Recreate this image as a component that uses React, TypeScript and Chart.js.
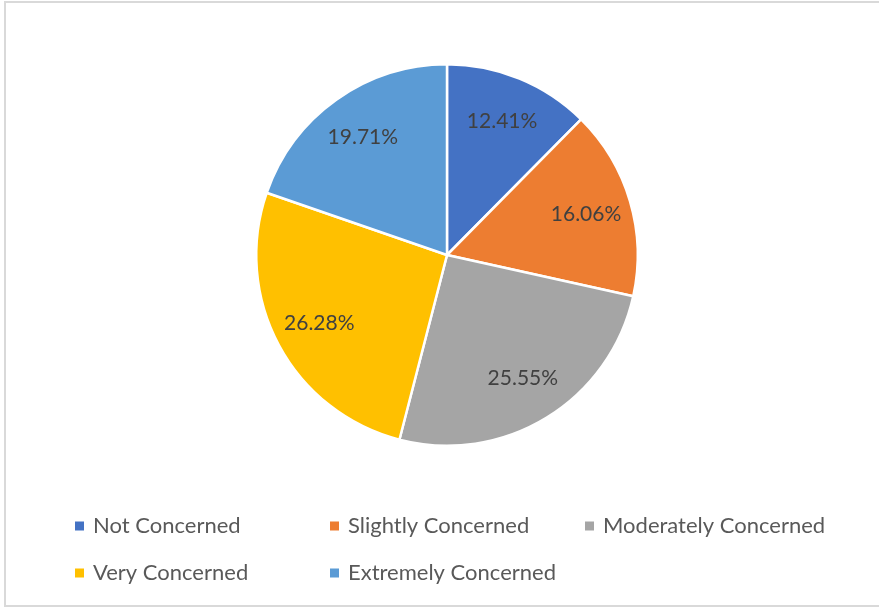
import React, { useEffect, useRef } from "react";
import { Chart, registerables } from "chart.js";

Chart.register(...registerables);

const categories = ["Not Concerned", "Slightly Concerned", "Moderately Concerned", "Very Concerned", "Extremely Concerned"];
const values = [12.41, 16.06, 25.55, 26.28, 19.71];
const valueLabels = ["12.41%", "16.06%", "25.55%", "26.28%", "19.71%"];
const colors = ["#4472C4", "#ED7D31", "#A5A5A5", "#FFC000", "#5B9BD5"];

const FONT = "Lato, 'Liberation Sans', sans-serif";

const labelPlugin = {
  id: "sliceLabels",
  afterDatasetsDraw(chart: any) {
    const ctx = chart.ctx;
    const meta = chart.getDatasetMeta(0);
    ctx.save();
    ctx.font = `21px ${FONT}`;
    ctx.fillStyle = "#404040";
    ctx.textAlign = "center";
    ctx.textBaseline = "middle";
    meta.data.forEach((arc: any, i: number) => {
      const { x, y, startAngle, endAngle, outerRadius } = arc.getProps(["x", "y", "startAngle", "endAngle", "outerRadius"], true);
      const mid = (startAngle + endAngle) / 2;
      const r = outerRadius * 0.76;
      ctx.fillText(valueLabels[i], x + Math.cos(mid) * r, y + Math.sin(mid) * r);
    });
    ctx.restore();
  },
};

const legendPlugin = {
  id: "gridLegend",
  afterDraw(chart: any) {
    const ctx = chart.ctx;
    const colStart = 75;
    const colStep = 255;
    const perRow = 3;
    const rowTop = 526;
    const rowStep = 47;
    ctx.save();
    ctx.font = `22px ${FONT}`;
    ctx.textBaseline = "middle";
    ctx.textAlign = "left";
    categories.forEach((c, i) => {
      const col = i % perRow;
      const row = Math.floor(i / perRow);
      const x = colStart + col * colStep;
      const y = rowTop + row * rowStep;
      ctx.fillStyle = colors[i];
      ctx.fillRect(x, y - 4.5, 9, 9);
      ctx.fillStyle = "#595959";
      ctx.fillText(c, x + 18, y);
    });
    ctx.restore();
  },
};

export default function App() {
  const ref = useRef<HTMLCanvasElement>(null);
  useEffect(() => {
    if (!ref.current) return;
    const chart = new Chart(ref.current, {
      type: "pie",
      data: {
        labels: categories,
        datasets: [
          {
            data: values,
            backgroundColor: colors,
            borderColor: "#ffffff",
            borderWidth: 2.5,
          },
        ],
      },
      options: {
        animation: false,
        responsive: false,
        maintainAspectRatio: false,
        layout: { padding: { left: 15, right: 0, top: 63, bottom: 162 } },
        plugins: {
          legend: { display: false },
          tooltip: { enabled: false },
        },
      },
      plugins: [labelPlugin, legendPlugin],
    });
    return () => chart.destroy();
  }, []);
  return (
    <div style={{ position: "fixed", left: 0, top: 0, width: 879, height: 609, background: "#fff", overflow: "hidden" }}>
      <div
        style={{
          position: "absolute",
          left: 4,
          top: 1,
          width: 900,
          height: 606,
          border: "2px solid #d9d9d9",
          boxSizing: "border-box",
        }}
      />
      <canvas ref={ref} width={879} height={609} style={{ position: "absolute", left: 0, top: 0 }} />
    </div>
  );
}
